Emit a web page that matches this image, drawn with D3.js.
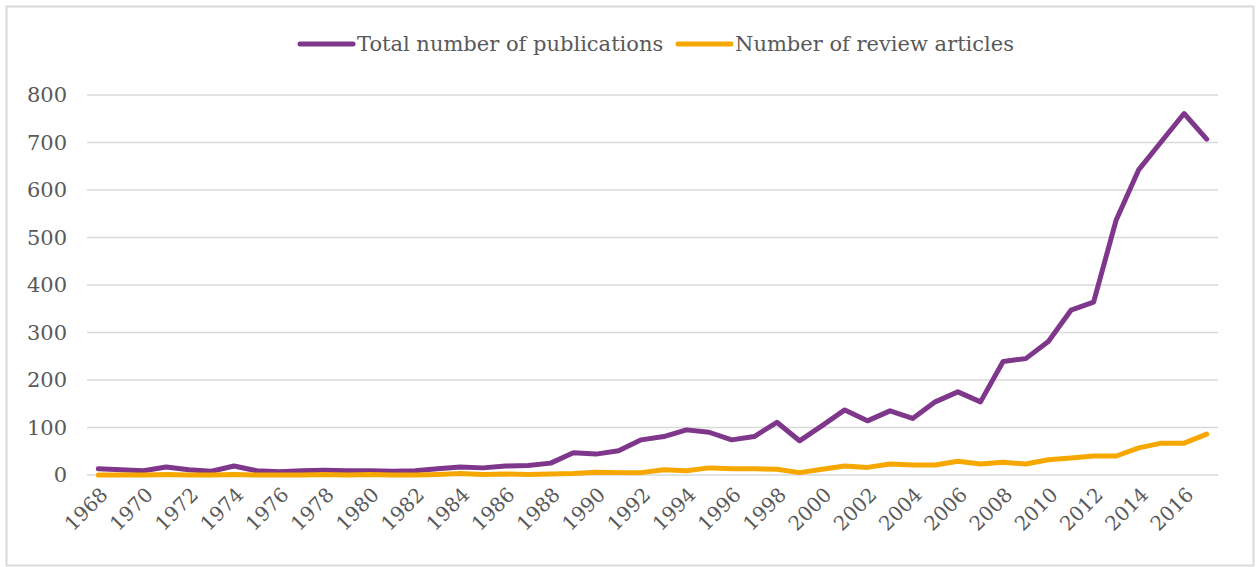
<!DOCTYPE html>
<html>
<head>
<meta charset="utf-8">
<script src="https://cdnjs.cloudflare.com/ajax/libs/d3/7.8.5/d3.min.js"></script>
<style>
  body { margin: 0; background: #fff; }
  text { font-family: "DejaVu Serif", "Liberation Serif", serif; fill: #595959; }
</style>
</head>
<body>
<div id="chart"></div>
<script>
// data
const years = d3.range(1968, 2018);
const totalPubs = [13, 11, 9, 17, 11, 8, 19, 9, 7, 9, 10, 9, 9, 8, 9, 13,
    17, 15, 19, 20, 25, 47, 44, 51, 74, 81, 95, 90, 74, 81, 111, 72,
    104, 137, 114, 135, 119, 154, 175, 154, 239, 245, 281, 347, 364, 537,
    643, 702, 761, 707];
const reviewArticles = [0, 0, 0, 1, 0, 0, 1, 0, 0, 0, 1, 0, 1, 0, 0, 1,
    3, 1, 2, 1, 2, 3, 6, 5, 5, 11, 9, 15, 13, 13, 12, 5,
    12, 19, 16, 23, 21, 21, 29, 23, 27, 23, 32, 36, 40, 40,
    57, 67, 67, 86];
const yTicks = [0, 100, 200, 300, 400, 500, 600, 700, 800];
const seriesNames = ["Total number of publications", "Number of review articles"];
const colors = ["#7E378A", "#F6A800"];

const svgWidth = 1260;
const svgHeight = 567;
const margins = { top: 95, right: 42, bottom: 92, left: 87 };
const chartWidth = svgWidth - margins.left - margins.right;
const chartHeight = svgHeight - margins.top - margins.bottom;

const svg = d3.select("#chart")
    .append("svg")
    .attr("width", svgWidth)
    .attr("height", svgHeight);

// outer frame
svg.append("rect")
    .attr("x", 6.5).attr("y", 6.5)
    .attr("width", 1247).attr("height", 559)
    .attr("fill", "none")
    .attr("stroke", "#d9d9d9")
    .attr("stroke-width", 2);

const chartGroup = svg.append("g")
    .attr("transform", `translate(${margins.left}, ${margins.top})`);

const xScale = d3.scalePoint()
    .domain(years)
    .range([0, chartWidth])
    .padding(0.5);

const yScale = d3.scaleLinear()
    .domain([0, 800])
    .range([chartHeight, 0]);

// gridlines
chartGroup.append("g")
    .selectAll("line")
    .data(yTicks)
    .enter()
    .append("line")
    .attr("x1", 0)
    .attr("x2", chartWidth)
    .attr("y1", d => yScale(d))
    .attr("y2", d => yScale(d))
    .attr("stroke", "#d9d9d9")
    .attr("stroke-width", 1.5);

// y axis labels
const leftAxis = d3.axisLeft(yScale).tickValues(yTicks).tickSize(0).tickPadding(20);
const yAxis = chartGroup.append("g").call(leftAxis);
yAxis.select(".domain").remove();
yAxis.selectAll("text")
    .attr("font-size", 21)
    .style("font-family", "\"DejaVu Serif\", serif")
    .attr("fill", "#595959");

// x axis labels, every other year
const bottomAxis = d3.axisBottom(xScale)
    .tickValues(years.filter(y => y % 2 === 0))
    .tickSize(0);
const xAxis = chartGroup.append("g")
    .attr("transform", `translate(0, ${chartHeight})`)
    .call(bottomAxis);
xAxis.select(".domain").remove();
xAxis.selectAll("text")
    .attr("font-size", 20)
    .style("font-family", "\"DejaVu Serif\", serif")
    .attr("fill", "#595959")
    .attr("text-anchor", "end")
    .attr("dy", 0)
    .attr("transform", "translate(8, 19) rotate(-45)");

// lines
const line = d3.line()
    .x((d, i) => xScale(years[i]))
    .y(d => yScale(d));

[totalPubs, reviewArticles].forEach((series, i) => {
    chartGroup.append("path")
        .datum(series)
        .attr("fill", "none")
        .attr("stroke", colors[i])
        .attr("stroke-width", 5)
        .attr("stroke-linejoin", "round")
        .attr("stroke-linecap", "round")
        .attr("d", line);
});

// legend
const legend = svg.append("g").attr("transform", "translate(0, 44)");
const legendX = [298, 676];
seriesNames.forEach((name, i) => {
    const g = legend.append("g").attr("transform", `translate(${legendX[i]}, 0)`);
    g.append("line")
        .attr("x1", 2).attr("x2", 55)
        .attr("y1", 0).attr("y2", 0)
        .attr("stroke", colors[i])
        .attr("stroke-width", 5)
        .attr("stroke-linecap", "round");
    g.append("text")
        .attr("x", 59)
        .attr("y", 7)
        .attr("font-size", 21)
        .text(name);
});
</script>
</body>
</html>
